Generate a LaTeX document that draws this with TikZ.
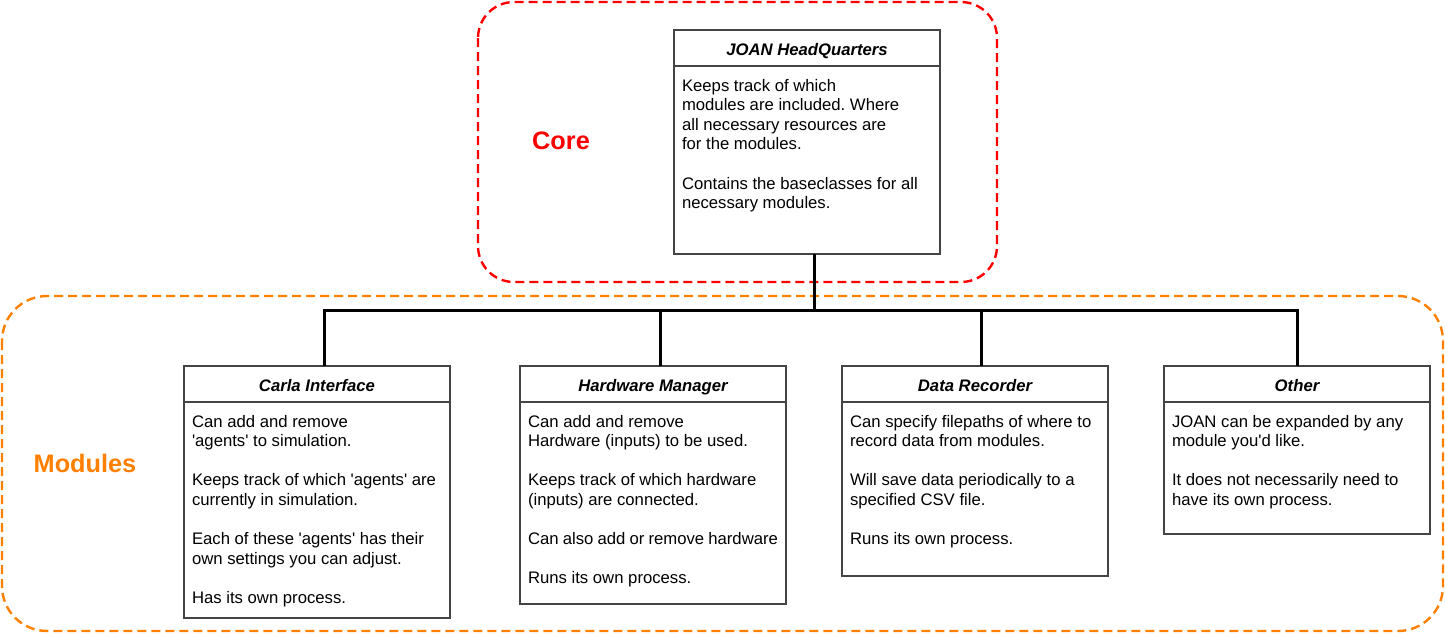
\documentclass[tikz,border=0pt]{standalone}
\usepackage{fontspec}
\setmainfont{Liberation Sans}
\usetikzlibrary{positioning}

\definecolor{coreRed}{HTML}{FF0000}
\definecolor{modOrange}{HTML}{FF8000}
\definecolor{boxGray}{HTML}{444444}

\newcommand{\basefont}{\fontsize{16.7}{19.6}\selectfont}
\newcommand{\sq}{\textquotesingle}
\newcommand{\boxtext}[2]{\parbox[t][#1][t]{250pt}{\raggedright\frenchspacing\setlength{\parskip}{19.6pt}\rule{0pt}{25pt}#2}}

\begin{document}
\begin{tikzpicture}[x=1pt,y=-1pt,
    hdr/.style={draw=boxGray, fill=white, line width=1.3pt, minimum width=266pt, minimum height=36pt,
                inner sep=0pt, outer sep=0pt, text height=14pt, text depth=0pt, font=\basefont\bfseries\itshape},
    bodybox/.style={draw=boxGray, fill=white, line width=1.3pt, inner xsep=8pt, inner ysep=0pt,
                outer sep=0pt, font=\basefont},
    link/.style={line width=3pt, black},
    frame/.style={dash pattern=on 9pt off 5pt, line width=2.4pt}]
    \useasboundingbox (0,0) rectangle (1445,633);

    % Gruppi
    \draw[frame, coreRed, rounded corners=36pt] (478,2) rectangle (997,282);
    \draw[frame, modOrange, rounded corners=45pt] (2,296) rectangle (1443,631);
    \node[text=coreRed, font=\fontsize{25.3}{29}\selectfont\bfseries] (corelbl) at (561,141) {Core};
    \node[text=modOrange, font=\fontsize{25.3}{29}\selectfont\bfseries] (modlbl) at (85,463) {Modules};

    % Core
    \node[hdr] (hq) at (807,48) {JOAN HeadQuarters};
    \node[bodybox, below=0pt of hq] (hqb) {\boxtext{188pt}{Keeps track of which\\ modules are included. Where\\ all necessary resources are\\ for the modules.\par Contains the baseclasses for all\\ necessary modules.}};

    % Moduli
    \node[hdr] (carla) at (317,384) {Carla Interface};
    \node[hdr, right=70pt of carla] (hw) {Hardware Manager};
    \node[hdr, right=56pt of hw] (rec) {Data Recorder};
    \node[hdr, right=56pt of rec] (other) {Other};

    \node[bodybox, below=0pt of carla] (carlab) {\boxtext{216pt}{Can add and remove\\ \sq agents\sq{} to simulation.\par Keeps track of which \sq agents\sq{} are\\ currently in simulation.\par Each of these \sq agents\sq{} has their\\ own settings you can adjust.\par Has its own process.}};
    \node[bodybox, below=0pt of hw] (hwb) {\boxtext{202pt}{Can add and remove\\ Hardware (inputs) to be used.\par Keeps track of which hardware\\ (inputs) are connected.\par Can also add or remove hardware\par Runs its own process.}};
    \node[bodybox, below=0pt of rec] (recb) {\boxtext{174pt}{Can specify filepaths of where to\\ record data from modules.\par Will save data periodically to a\\ specified CSV file.\par Runs its own process.}};
    \node[bodybox, below=0pt of other] (otherb) {\boxtext{132pt}{JOAN can be expanded by any\\ module you\sq d like.\par It does not necessarily need to\\ have its own process.}};

    % Collegamenti
    \coordinate (bus) at (814,310);
    \draw[link] (hqb.south -| bus) -- (bus);
    \draw[link] (bus) -| ([xshift=7pt]carla.north);
    \draw[link] (bus) -| ([xshift=7pt]hw.north);
    \draw[link] (bus) -| ([xshift=6pt]rec.north);
    \draw[link] (bus) -| (other.north);
\end{tikzpicture}
\end{document}
